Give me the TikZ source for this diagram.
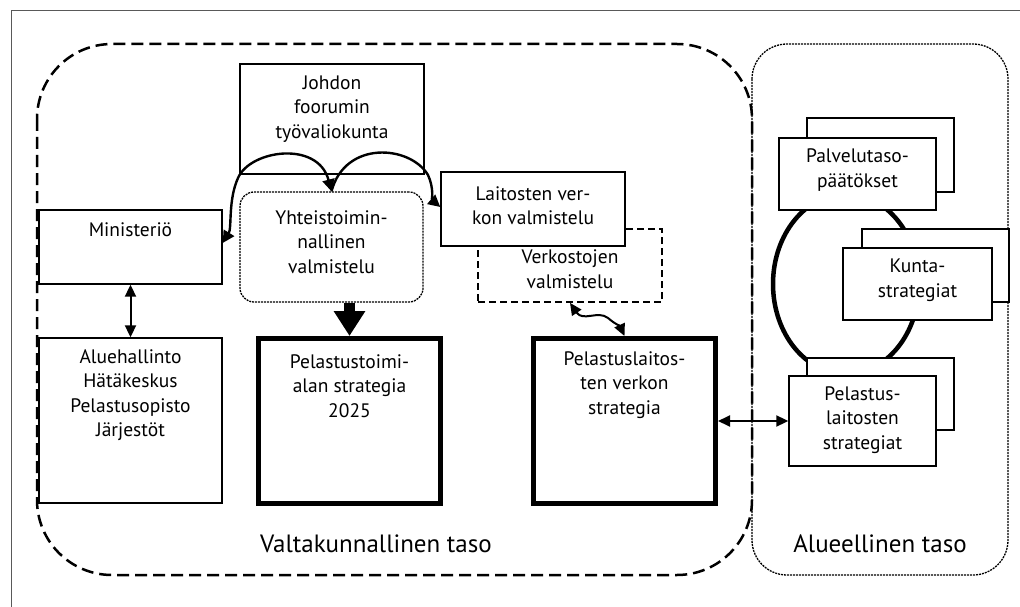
\documentclass[tikz,border=0pt]{standalone}
\usepackage{fontspec}
\setmainfont{PT Sans}
\usetikzlibrary{arrows.meta}
\begin{document}
\begin{tikzpicture}[x=1pt,y=-1pt]
\tikzset{
 box/.style={draw,line width=1.4pt,fill=white,inner sep=0pt},
 thickbox/.style={draw,line width=5pt,fill=white,inner sep=0pt},
 txt/.style={align=center,font=\fontsize{19.5}{24.5}\selectfont,inner sep=0pt},
 big/.style={font=\fontsize{25}{30}\selectfont,inner sep=0pt},
 arr/.style={line width=2pt,{Triangle[length=12pt,width=11pt]}-{Triangle[length=12pt,width=11pt]}},
 arcarr/.style={line width=2.4pt},
 region/.style={line width=2.5pt,dash pattern=on 12pt off 6pt},
 fineregion/.style={line width=1.3pt,dash pattern=on 2pt off 1pt},
}
\useasboundingbox (0,0) rectangle (1020,607);
\fill[white] (0,0) rectangle (1020,607);
% frame
\draw[gray!70!black,line width=1pt] (11,607) -- (11,11) -- (1020,11);
% regions
\draw[region,rounded corners=75pt] (37,44) rectangle (752,575);
\draw[fineregion,rounded corners=35pt] (752,44) rectangle (1008,575);
% ring
\draw[line width=4.5pt] (846,284) ellipse [x radius=73pt, y radius=90pt];

% national level boxes
\node[box,minimum width=184pt,minimum height=110pt] (johdon) at (332,119) {};
\node[txt] (johdonT) at (332,109) {Johdon\\foorumin\\työvaliokunta};

\node[box,minimum width=183pt,minimum height=74pt] (min) at (130.5,247) {};
\node[txt] (minT) at (130.5,230) {Ministeriö};

\node[draw,fineregion,rounded corners=14pt,fill=white,inner sep=0pt,minimum width=183pt,minimum height=110pt] (yht) at (331.5,247) {};
\node[txt] (yhtT) at (331.5,242) {Yhteistoimin-\\nallinen\\valmistelu};

\node[draw,line width=1.8pt,dash pattern=on 7pt off 4pt,fill=white,inner sep=0pt,minimum width=184pt,minimum height=73pt] (verk) at (570,265.5) {};
\node[txt] (verkT) at (570,269) {Verkostojen\\valmistelu};

\node[box,minimum width=184pt,minimum height=74pt] (lait) at (533,209) {};
\node[txt] (laitT) at (533,205.5) {Laitosten ver-\\kon valmistelu};

\node[box,minimum width=183pt,minimum height=165pt] (alue) at (130.5,420.5) {};
\node[txt] (alueT) at (130.5,395) {Aluehallinto\\Hätäkeskus\\Pelastusopisto\\Järjestöt};

\node[thickbox,minimum width=182pt,minimum height=165pt] (pel) at (349.5,421) {};
\node[txt] (pelT) at (349.5,386) {Pelastustoimi-\\alan strategia\\2025};

\node[thickbox,minimum width=182pt,minimum height=165pt] (plvs) at (624.5,421) {};
\node[txt] (plvsT) at (624.5,385) {Pelastuslaitos-\\ten verkon\\strategia};

% regional boxes
\node[box,minimum width=147pt,minimum height=74pt] (palvB) at (880.5,155) {};
\node[box,minimum width=157pt,minimum height=72pt] (palv) at (857.5,174) {};
\node[txt] (palvT) at (857.5,170) {Palvelutaso-\\päätökset};

\node[box,minimum width=147pt,minimum height=73pt] (kuntaB) at (935.5,265.5) {};
\node[box,minimum width=149pt,minimum height=72pt] (kunta) at (917.5,284) {};
\node[txt] (kuntaT) at (917.5,280) {Kunta-\\strategiat};

\node[box,minimum width=147pt,minimum height=72pt] (pstrB) at (880.5,394) {};
\node[box,minimum width=147pt,minimum height=90pt] (pstr) at (862.5,421) {};
\node[txt] (pstrT) at (862.5,420) {Pelastus-\\laitosten\\strategiat};

% level labels
\node[big] (valt) at (376,544) {Valtakunnallinen taso};
\node[big] (aluee) at (880,544) {Alueellinen taso};

% connectors
\draw[arr] (min.south) -- (alue.north);
\draw[line width=11pt,-{Triangle[length=25pt,width=30pt]}] (pel.north |- yht.south) -- (pel.north);
\draw[arr] (verk.south) .. controls (583,322) and (598,310) .. (608,318) .. controls (615,324) and (620,326) .. (plvs.north);
\draw[arr] (plvs.east) -- (pstr.west);
\draw[arcarr,{Triangle[length=12pt,width=12pt]}-{Triangle[length=12pt,width=12pt]}] ([yshift=4pt]min.east) .. controls (232,228) and (228,200) .. (238,178) .. controls (250,150) and (318,140) .. (yht.north);
\draw[arcarr,-{Triangle[length=12pt,width=12pt]}] (yht.north) .. controls (345,140) and (410,145) .. (428,175) .. controls (434,188) and (432,200) .. ([yshift=2pt]lait.west);
\end{tikzpicture}
\end{document}
